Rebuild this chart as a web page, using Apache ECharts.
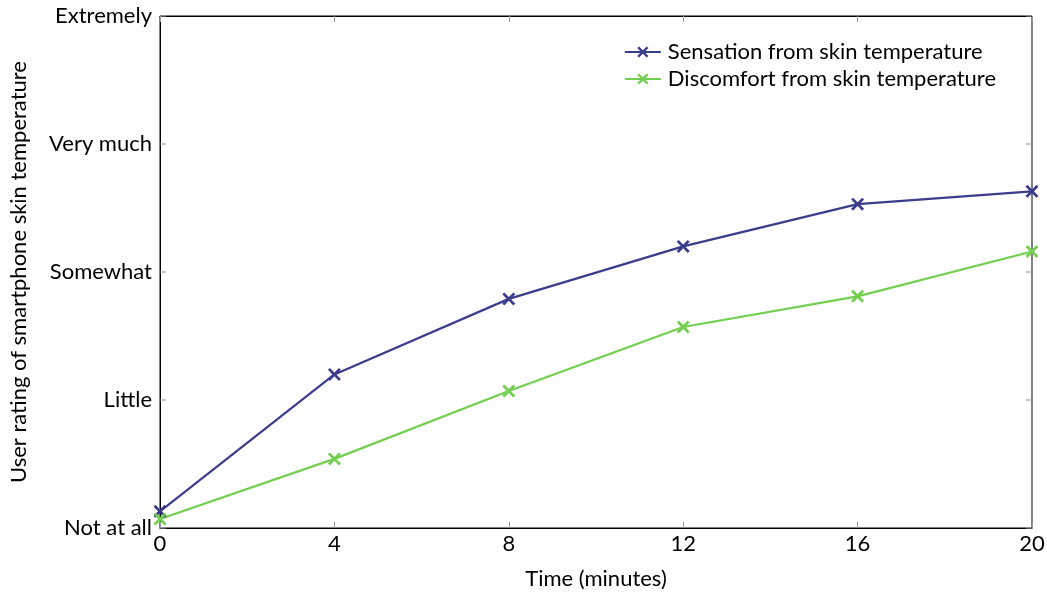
<!DOCTYPE html>
<html><head><meta charset="utf-8">
<script src="https://cdn.jsdelivr.net/npm/echarts@6/dist/echarts.min.js"></script>
<style>html,body{margin:0;padding:0;background:#fff}#c{width:1047px;height:592px}</style>
</head><body><div id="c"></div>
<script>
const xValues = [0, 4, 8, 12, 16, 20];
const sensation = [0.13, 1.2, 1.79, 2.2, 2.53, 2.63];
const discomfort = [0.07, 0.54, 1.07, 1.57, 1.81, 2.16];
const yTickValues = [0, 1, 2, 3, 4];
const yTickLabels = ['Not at all', 'Little', 'Somewhat', 'Very much', 'Extremely'];
const seriesNames = ['Sensation from skin temperature', 'Discomfort from skin temperature'];

const FONT = 'Lato';
const FS = 22;
const X_MIN = 0, X_MAX = 20;
const cross = 'path://M0,1.5L1.5,0L5,3.5L8.5,0L10,1.5L6.5,5L10,8.5L8.5,10L5,6.5L1.5,10L0,8.5L3.5,5Z';
const chart = echarts.init(document.getElementById('c'));
const tick = () => ({show: true, inside: true, length: 6, lineStyle: {color: '#999', width: 1}});
const tickStroke = {stroke: '#999', lineWidth: 1};
chart.setOption({
  animation: false,
  grid: {left: 160, right: 15, top: 16, bottom: 64, show: true, borderColor: '#000', borderWidth: 1,
         containLabel: false, outerBoundsMode: 'none'},
  legend: {
    orient: 'vertical', right: 46, top: 36, itemGap: 5, itemWidth: 36, itemHeight: 14,
    textStyle: {fontFamily: FONT, fontSize: FS, color: '#000', padding: [0, 0, 0, 2]},
    data: seriesNames
  },
  xAxis: [{
    type: 'value', min: X_MIN, max: X_MAX, interval: 4,
    name: 'Time (minutes)', nameLocation: 'middle', nameGap: 40,
    nameTextStyle: {fontFamily: FONT, fontSize: FS, color: '#000'},
    axisLine: {lineStyle: {color: '#000'}},
    axisTick: tick(), splitLine: {show: false},
    axisLabel: {fontFamily: FONT, fontSize: FS, color: '#000', margin: 5}
  }, {
    type: 'value', min: X_MIN, max: X_MAX, interval: 4, position: 'top',
    axisLine: {show: true, lineStyle: {color: '#000'}},
    axisTick: tick(), splitLine: {show: false}, axisLabel: {show: false}
  }],
  yAxis: [{
    type: 'value', min: 0, max: 4, interval: 1, position: 'left',
    name: 'User rating of smartphone skin temperature', nameLocation: 'middle', nameGap: 130,
    nameTextStyle: {fontFamily: FONT, fontSize: FS, color: '#000'},
    axisLine: {show: true, lineStyle: {color: '#000'}},
    axisTick: {show: false}, splitLine: {show: false},
    axisLabel: {fontFamily: FONT, fontSize: FS, color: '#000', margin: 8,
      formatter: v => yTickLabels[v]}
  }],
  series: [{
    type: 'custom', silent: true, clip: false, z: 1,
    encode: {x: 0, y: 1},
    data: yTickValues.map(v => [X_MIN, v]),
    renderItem: (params, api) => {
      const v = api.value(1);
      const pL = api.coord([X_MIN, v]);
      const pR = api.coord([X_MAX, v]);
      return {type: 'group', children: [
        {type: 'line', shape: {x1: pL[0], y1: pL[1], x2: pL[0] + 6, y2: pL[1]}, style: tickStroke},
        {type: 'line', shape: {x1: pR[0] - 6, y1: pR[1], x2: pR[0], y2: pR[1]}, style: tickStroke}
      ]};
    }
  }, {
    name: seriesNames[0], type: 'line', data: xValues.map((x, i) => [x, sensation[i]]),
    color: '#3c3c8c', lineStyle: {width: 2.2}, symbol: cross, symbolSize: 13,
    itemStyle: {color: '#3c3c8c'}, z: 3
  }, {
    name: seriesNames[1], type: 'line', data: xValues.map((x, i) => [x, discomfort[i]]),
    color: '#72cf4f', lineStyle: {width: 2.2}, symbol: cross, symbolSize: 13,
    itemStyle: {color: '#72cf4f'}, z: 3
  }]
});
</script></body></html>
